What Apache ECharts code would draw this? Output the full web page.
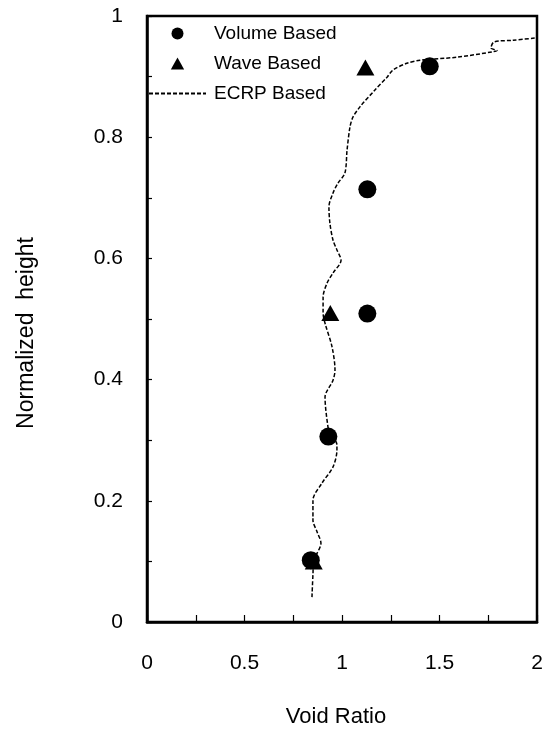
<!DOCTYPE html>
<html>
<head>
<meta charset="utf-8">
<script src="https://cdn.jsdelivr.net/npm/echarts@6/dist/echarts.min.js"></script>
<style>html,body{margin:0;padding:0;background:#fff;}#c{width:550px;height:729px;}</style>
</head>
<body>
<div id="c"></div>
<script>
// Volume based points [void ratio, normalized height]
const volumeX = [1.45, 1.13, 1.13, 0.93, 0.84];
const volumeY = [0.917, 0.714, 0.509, 0.306, 0.102];
// Wave based points
const waveX = [1.12, 0.94, 0.855];
const waveY = [0.915, 0.51, 0.10];
// ECRP based profile
const ecrpX = [0.846, 0.851, 0.856, 0.892, 0.872, 0.851, 0.851, 0.897, 0.954, 0.974, 0.974, 0.938, 0.928, 0.913, 0.954, 0.964, 0.949, 0.913, 0.903, 0.903, 0.923, 0.954, 0.995, 0.974, 0.954, 0.938, 0.933, 0.954, 0.979, 1.015, 1.026, 1.041, 1.056, 1.092, 1.169, 1.231, 1.262, 1.333, 1.400, 1.590, 1.774, 1.795, 1.764, 1.779, 1.877, 2.0];
const ecrpY = [0.041, 0.078, 0.102, 0.130, 0.149, 0.168, 0.201, 0.229, 0.256, 0.284, 0.292, 0.314, 0.322, 0.371, 0.399, 0.416, 0.454, 0.493, 0.510, 0.536, 0.559, 0.576, 0.597, 0.614, 0.630, 0.658, 0.685, 0.708, 0.724, 0.741, 0.779, 0.817, 0.833, 0.850, 0.878, 0.899, 0.911, 0.922, 0.927, 0.932, 0.941, 0.943, 0.947, 0.957, 0.960, 0.964];
const seriesNames = ['Volume Based', 'Wave Based', 'ECRP Based'];
const xTitle = 'Void Ratio';
const yTitle = 'Normalized  height';

const zip = (a, b) => a.map((v, i) => [v, b[i]]);
const FONT = 'Liberation Sans, Arial, sans-serif';

const chart = echarts.init(document.getElementById('c'), null, {renderer: 'canvas'});
chart.setOption({
  animation: false,
  backgroundColor: '#fff',
  grid: {left: 147, right: 13, top: 16, bottom: 107, outerBoundsMode: 'none', containLabel: false,
    show: true, borderColor: '#000', borderWidth: 2.5, backgroundColor: 'transparent'},
  legend: {
    orient: 'vertical', left: 148, top: 24, padding: 0,
    itemWidth: 57, itemHeight: 12, itemGap: 11,
    symbolKeepAspect: true,
    data: [
      {name: seriesNames[0], icon: 'circle'},
      {name: seriesNames[1], icon: 'path://M5,0L10,9L0,9Z'},
      {name: seriesNames[2], itemStyle: {opacity: 0}}
    ],
    textStyle: {fontFamily: FONT, fontSize: 19, color: '#000', padding: [0, 0, 0, 3]}
  },
  xAxis: {
    type: 'value', min: 0, max: 2, interval: 0.5,
    name: xTitle, nameLocation: 'middle', nameGap: 84,
    nameTextStyle: {fontFamily: FONT, fontSize: 22, color: '#000', padding: [0, 12, 0, 0]},
    axisLine: {show: true, lineStyle: {color: '#000', width: 2.5}},
    axisTick: {show: true, inside: true, length: 7, lineStyle: {color: '#000', width: 1.2}},
    minorTick: {show: true, splitNumber: 2, length: 7, lineStyle: {color: '#000', width: 1.2}},
    splitLine: {show: false},
    axisLabel: {fontFamily: FONT, fontSize: 21, color: '#000', margin: 31}
  },
  yAxis: {
    type: 'value', min: 0, max: 1, interval: 0.2,
    name: yTitle, nameLocation: 'middle', nameGap: 109,
    nameTextStyle: {fontFamily: FONT, fontSize: 23, color: '#000', padding: [0, 28, 0, 0]},
    axisLine: {show: true, lineStyle: {color: '#000', width: 2.5}},
    axisTick: {show: true, inside: true, length: 5, lineStyle: {color: '#000', width: 1.2}},
    minorTick: {show: true, splitNumber: 2, length: 5, lineStyle: {color: '#000', width: 1.2}},
    splitLine: {show: false},
    axisLabel: {fontFamily: FONT, fontSize: 21, color: '#000', margin: 24}
  },
  series: [
    {
      name: seriesNames[2], type: 'line', data: zip(ecrpX, ecrpY),
      symbol: 'none', smooth: 0.3, clip: true, z: 2,
      lineStyle: {color: '#000', width: 1.5, type: [4, 2]},
      itemStyle: {color: '#000'}
    },
    {
      name: seriesNames[1], type: 'scatter', data: zip(waveX, waveY),
      symbol: 'triangle', symbolSize: [18, 16], z: 3,
      itemStyle: {color: '#000', opacity: 1}
    },
    {
      name: seriesNames[0], type: 'scatter', data: zip(volumeX, volumeY),
      symbol: 'circle', symbolSize: 18, z: 4,
      itemStyle: {color: '#000', opacity: 1}
    }
  ]
});
</script>
</body>
</html>
